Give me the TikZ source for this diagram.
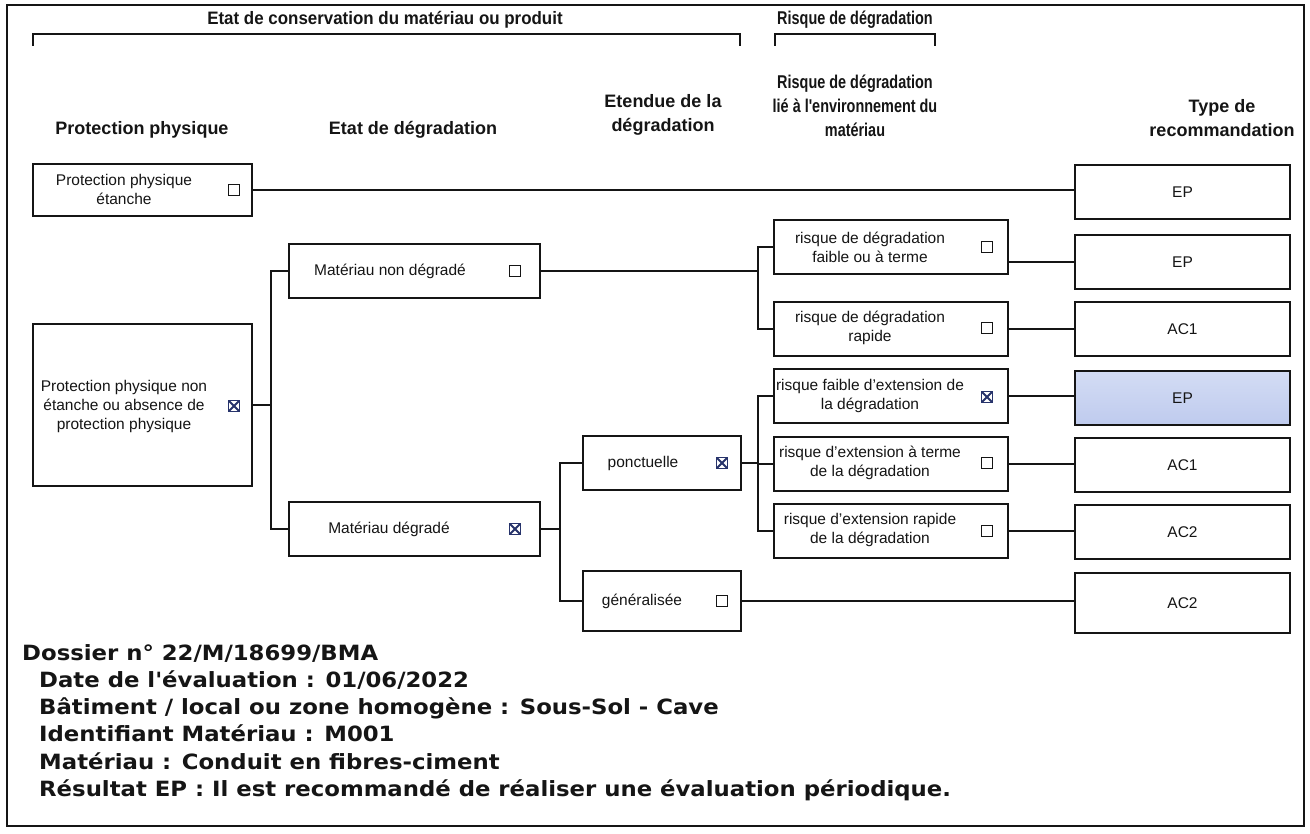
\documentclass[tikz,border=0pt]{standalone}
\usepackage{fontspec}
\setmainfont{Liberation Sans}
\newfontfamily\infofont[FakeStretch=1.085]{DejaVu Sans}
\newfontfamily\narrowfont[FakeStretch=0.78]{Liberation Sans}
\newfontfamily\titlefont[FakeStretch=0.94]{Liberation Sans}
\definecolor{ink}{HTML}{151515}
\definecolor{navy}{HTML}{27336B}
\definecolor{epfill}{HTML}{BFCBEE}
\definecolor{eptop}{HTML}{D3DCF4}
\tikzset{
  bx/.style={draw=ink, line width=2pt, inner sep=0pt},
  ln/.style={draw=ink, line width=2pt},
  brk/.style={draw=ink, line width=1.5pt},
  hdr/.style={font=\fontsize{18}{24}\selectfont\bfseries, align=center, inner sep=0pt, text=ink},
  hdrn/.style={font=\narrowfont\fontsize{18.5}{24}\selectfont\bfseries, align=center, inner sep=0pt, text=ink},
  hdrt/.style={font=\titlefont\fontsize{18}{24}\selectfont\bfseries, align=center, inner sep=0pt, text=ink},
  txt/.style={font=\fontsize{15.5}{19}\selectfont, align=center, inner sep=0pt, text=ink},
  rec/.style={font=\fontsize{15.5}{19}\selectfont, inner sep=0pt, text=ink},
  chk/.style={draw=ink, line width=1.4pt, minimum size=11pt, inner sep=0pt},
  chkx/.style={draw=navy, line width=1.6pt, minimum size=11pt, inner sep=0pt,
    path picture={\draw[navy, line width=1.8pt]
      (path picture bounding box.north west) -- (path picture bounding box.south east)
      (path picture bounding box.north east) -- (path picture bounding box.south west);}},
  info/.style={font=\infofont\fontsize{21}{27}\selectfont\bfseries, anchor=base west, inner sep=0pt, text=ink}
}
\begin{document}
\begin{tikzpicture}[x=1pt, y=-1pt]
\useasboundingbox (0,0) rectangle (1310,834);
\fill[white] (0,0) rectangle (1310,834);
\draw[ink, line width=1.2pt] (7,5) rectangle (1304,826);

% top titles and brackets
\node[hdrt] (t1) at (385,20) {Etat de conservation du matériau ou produit};
\node[hdrn] (t2) at (855,20) {Risque de dégradation};
\draw[brk] (33,46) -- (33,34) -- (740,34) -- (740,46);
\draw[brk] (775,46) -- (775,34) -- (935,34) -- (935,46);

% column headers
\node[hdr] (h1) at (142,130) {Protection physique};
\node[hdr] (h2) at (413,130) {Etat de dégradation};
\node[hdr] (h3) at (663,115) {Etendue de la\\dégradation};
\node[hdrn] (h4) at (855,106) {Risque de dégradation\\lié à l'environnement du\\matériau};
\node[hdr] (h5) at (1222,118) {Type de\\recommandation};

% boxes
\node[bx, minimum width=219pt, minimum height=52pt] (B1) at (142.5,190) {};
\node[bx, minimum width=219pt, minimum height=162pt] (B2) at (142.5,405) {};
\node[bx, minimum width=251pt, minimum height=54pt] (B3) at (414.5,271) {};
\node[bx, minimum width=251pt, minimum height=54pt] (B4) at (414.5,529) {};
\node[bx, minimum width=158pt, minimum height=54pt] (P) at (662,463) {};
\node[bx, minimum width=158pt, minimum height=60pt] (G) at (662,601) {};
\node[bx, minimum width=234pt, minimum height=54pt] (R1) at (891,247) {};
\node[bx, minimum width=234pt, minimum height=54pt] (R2) at (891,329) {};
\node[bx, minimum width=234pt, minimum height=54pt] (R3) at (891,396) {};
\node[bx, minimum width=234pt, minimum height=54pt] (R4) at (891,464) {};
\node[bx, minimum width=234pt, minimum height=54pt] (R5) at (891,531) {};
\node[bx, minimum width=215pt, minimum height=54pt] (E1) at (1182.5,192) {};
\node[bx, minimum width=215pt, minimum height=54pt] (E2) at (1182.5,262) {};
\node[bx, minimum width=215pt, minimum height=54pt] (E3) at (1182.5,329) {};
\node[bx, minimum width=215pt, minimum height=54pt, top color=eptop, bottom color=epfill] (E4) at (1182.5,398) {};
\node[bx, minimum width=215pt, minimum height=54pt] (E5) at (1182.5,465) {};
\node[bx, minimum width=215pt, minimum height=54pt] (E6) at (1182.5,532) {};
\node[bx, minimum width=215pt, minimum height=60pt] (E7) at (1182.5,603) {};

% box texts
\node[txt] (b1t) at (124,189) {Protection physique\\étanche};
\node[txt] (b2t) at (124,406) {Protection physique non\\étanche ou absence de\\protection physique};
\node[txt] (b3t) at (390,271) {Matériau non dégradé};
\node[txt] (b4t) at (389,529) {Matériau dégradé};
\node[txt] (pt) at (643,463) {ponctuelle};
\node[txt] (gt) at (642,601) {généralisée};
\node[txt] (r1t) at (870,247) {risque de dégradation\\faible ou à terme};
\node[txt] (r2t) at (870,328) {risque de dégradation\\rapide};
\node[txt] (r3t) at (870,396) {risque faible d'extension de\\la dégradation};
\node[txt] (r4t) at (870,463) {risque d'extension à terme\\de la dégradation};
\node[txt] (r5t) at (870,530) {risque d'extension rapide\\de la dégradation};
\node[rec] (e1t) at (E1) {EP};
\node[rec] (e2t) at (E2) {EP};
\node[rec] (e3t) at (E3) {AC1};
\node[rec] (e4t) at (E4) {EP};
\node[rec] (e5t) at (E5) {AC1};
\node[rec] (e6t) at (E6) {AC2};
\node[rec] (e7t) at (E7) {AC2};

% checkboxes
\node[chk] (c1) at (234,190) {};
\node[chkx] (c2) at (234,406) {};
\node[chk] (c3) at (515,271) {};
\node[chkx] (c4) at (515,529) {};
\node[chkx] (c5) at (722,463) {};
\node[chk] (c6) at (722,601) {};
\node[chk] (c7) at (987,247) {};
\node[chk] (c8) at (987,328) {};
\node[chkx] (c9) at (987,397) {};
\node[chk] (c10) at (987,463) {};
\node[chk] (c11) at (987,531) {};

% junction coordinates
\coordinate (j1) at (271,0);
\coordinate (j2) at (758,0);
\coordinate (j3) at (560,0);

% connectors
\draw[ln] (B1.east) -- (B1.east -| E1.west);
\draw[ln] (B2.east) -- (B2.east -| j1);
\draw[ln] (B3.west) -- (B3.west -| j1) -- (B4.west -| j1) -- (B4.west);
\draw[ln] (B3.east) -- (B3.east -| j2);
\draw[ln] (R1.west) -- (R1.west -| j2) -- (R2.west -| j2) -- (R2.west);
\draw[ln] (B4.east) -- (B4.east -| j3);
\draw[ln] (P.west) -- (P.west -| j3) -- (G.west -| j3) -- (G.west);
\draw[ln] (P.east) -- (P.east -| j2);
\draw[ln] (R3.west) -- (R3.west -| j2) -- (R5.west -| j2) -- (R5.west);
\draw[ln] (R4.west) -- (R4.west -| j2);
\draw[ln] (E2.west -| R1.east) -- (E2.west);
\draw[ln] (R2.east) -- (R2.east -| E3.west);
\draw[ln] (R3.east) -- (R3.east -| E4.west);
\draw[ln] (R4.east) -- (R4.east -| E5.west);
\draw[ln] (R5.east) -- (R5.east -| E6.west);
\draw[ln] (G.east) -- (G.east -| E7.west);

% info block
\node[info] (i1) at (22,660) {Dossier n° 22/M/18699/BMA};
\node[info] (i2) at (39,687) {Date de l'évaluation : 01/06/2022};
\node[info] (i3) at (39,714) {Bâtiment / local ou zone homogène : Sous-Sol - Cave};
\node[info] (i4) at (39,741) {Identifiant Matériau : M001};
\node[info] (i5) at (39,769) {Matériau : Conduit en fibres-ciment};
\node[info] (i6) at (39,796) {Résultat EP : Il est recommandé de réaliser une évaluation périodique.};
\end{tikzpicture}
\end{document}
